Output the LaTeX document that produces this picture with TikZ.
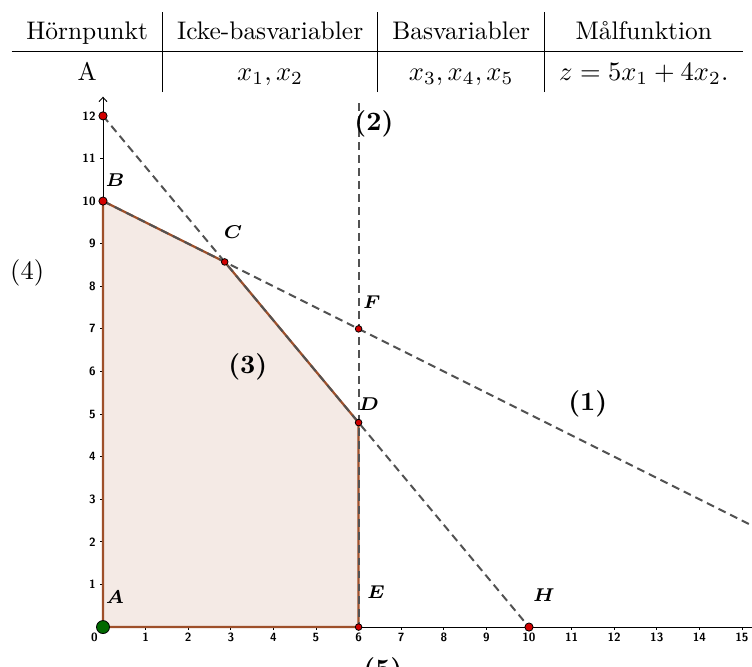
\documentclass[tikz,border=0pt]{standalone}
\usepackage{amsmath,amssymb}
\usepackage{tikz}
\usetikzlibrary{positioning,arrows.meta,calc}
\definecolor{feasfill}{RGB}{244,234,229}
\definecolor{edgebrown}{RGB}{158,80,42}
\definecolor{ptred}{RGB}{210,0,0}
\definecolor{ptgreen}{RGB}{0,105,0}

\begin{document}
\begin{tikzpicture}[
  x=0.565cm, y=0.565cm,
  font=\normalsize,
  >=Stealth,
  redpt/.style={circle, draw=black, fill=ptred, line width=0.3pt, inner sep=0pt, minimum size=3.1pt},
  smallpt/.style={redpt, minimum size=2.5pt},
  startpt/.style={circle, draw=black, fill=ptgreen, line width=0.3pt, inner sep=0pt, minimum size=4.9pt},
  axisline/.style={draw=black, line width=0.35pt},
  bline/.style={draw=black!68, dash pattern=on 3pt off 1.9pt, line width=0.75pt},
  feasedge/.style={draw=edgebrown, line width=0.85pt, line join=round},
  ptlabel/.style={font=\fontsize{7.5}{9}\selectfont\boldmath},
  bvlabel/.style={font=\bfseries},
  ticklabel/.style={font=\fontsize{4.5}{5}\selectfont\sffamily\bfseries, inner sep=1pt}
]
  \useasboundingbox (-2.418,-0.915) rectangle (15.235,14.72);

  \node (tab) at (6.44,13.5) {\fontsize{9.6}{11.5}\selectfont\setlength{\tabcolsep}{5.5pt}\renewcommand{\arraystretch}{1.3}%
    \begin{tabular}{c|c|c|c}
      Hörnpunkt & Icke-basvariabler & Basvariabler & Målfunktion\\ \hline
      A & $x_1, x_2$ & $x_3, x_4, x_5$ & $z = 5x_1 + 4x_2.$
    \end{tabular}};

  \coordinate (pA) at (0,0);
  \coordinate (pB) at (0,10);
  \coordinate (pG) at (0,12);
  \coordinate (pC) at (20/7,60/7);
  \coordinate (pF) at (6,7);
  \coordinate (pD) at (6,4.8);
  \coordinate (pE) at (6,0);
  \coordinate (pH) at (10,0);
  \coordinate (xend) at (15.235,0);
  \coordinate (yend) at (0,12.45);
  \coordinate (lend1) at (15.235,2.3825);
  \coordinate (lend2) at (6,12.3);

  \fill[feasfill] (pA) -- (pB) -- (pC) -- (pD) -- (pE) -- cycle;

  \draw[axisline] (pA) -- (xend);
  \draw[axisline, -{Straight Barb[length=1.6pt, width=3pt]}] (pA) -- (yend);
  \foreach \i in {1,...,15} {
    \draw[axisline] (\i,0) -- (\i,-0.08);
    \node[ticklabel] (xt\i) at (\i,-0.25) {\i};
  }
  \foreach \i in {1,...,12} {
    \draw[axisline] (0,\i) -- (-0.08,\i);
    \node[ticklabel, anchor=east] (yt\i) at (-0.1,\i) {\i};
  }
  \node[ticklabel] (orig) at (-0.2,-0.25) {0};

  \draw[feasedge] (pA) -- (pB) -- (pC) -- (pD) -- (pE) -- cycle;

  \draw[bline] (pB) -- (lend1);
  \draw[bline] (pG) -- (pH);
  \draw[bline] (lend2) -- (pE);

  \node[startpt] (A) at (pA) {};
  \node[redpt] (B) at (pB) {};
  \node[redpt] (G) at (pG) {};
  \node[smallpt] (C) at (pC) {};
  \node[smallpt] (F) at (pF) {};
  \node[smallpt] (D) at (pD) {};
  \node[smallpt] (E) at (pE) {};
  \node[redpt] (H) at (pH) {};

  \node[ptlabel] (labA) at (0.28,0.70) {$A$};
  \node[ptlabel] (labB) at (0.28,10.49) {$B$};
  \node[ptlabel] (labC) at (3.05,9.27) {$C$};
  \node[ptlabel] (labF) at (6.31,7.63) {$F$};
  \node[ptlabel] (labD) at (6.24,5.23) {$D$};
  \node[ptlabel] (labE) at (6.41,0.82) {$E$};
  \node[ptlabel] (labH) at (10.35,0.75) {$H$};

  \node[bvlabel] (r1) at (11.38,5.23) {(1)};
  \node[bvlabel] (r2) at (6.36,11.81) {(2)};
  \node[bvlabel] (r3) at (3.40,6.10) {(3)};
  \node (r4) at (-1.78,8.31) {(4)};
  \node[bvlabel] (r5) at (6.57,-1.03) {(5)};
\end{tikzpicture}
\end{document}
